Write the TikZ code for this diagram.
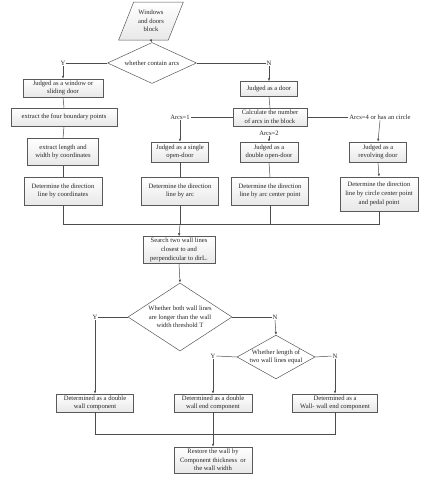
\documentclass[tikz,border=0pt]{standalone}
\usepackage{fontspec}
\setmainfont{Liberation Serif}
\usetikzlibrary{shapes.geometric,arrows.meta}
\tikzset{
  every node/.style={font=\fontsize{6.6}{8.7}\selectfont, align=center, text=black!85},
  boxx/.style={draw=black!65, line width=0.5pt, top color=white, bottom color=black!9, inner sep=1pt},
  dia/.style={diamond, draw=black!65, line width=0.5pt, fill=white, inner sep=-6pt},
  lbl/.style={inner sep=0.8pt, font=\fontsize{6.6}{8}\selectfont},
  ln/.style={draw=black!70, line width=0.5pt},
  arr/.style={ln, -{Latex[length=3pt,width=2.4pt]}},
}
\begin{document}
\begin{tikzpicture}[x=1pt,y=-1pt]
\useasboundingbox[fill=white] (0,0) rectangle (431,480);
% top
\node[trapezium, trapezium left angle=63, trapezium right angle=117, trapezium stretches=true,
      draw=black!65, line width=0.5pt, top color=white, bottom color=black!9,
      minimum width=65pt, minimum height=38pt, inner sep=0pt] (p0) at (151,21) {Windows\\and doors\\block};
\node[dia, minimum width=89pt, minimum height=41pt] (d0) at (152,63) {whether contain arcs};
\node[lbl] (yA) at (63,63) {Y};
\node[lbl] (nA) at (269,63) {N};
\node[boxx, minimum width=80pt, minimum height=18pt] (b1) at (63,88) {Judged as a window or\\sliding door};
\node[boxx, minimum width=57pt, minimum height=15pt] (b2) at (269,89) {Judged as a door};
\node[boxx, minimum width=106pt, minimum height=18pt] (b3) at (64,117) {extract the four boundary points};
\node[boxx, minimum width=74pt, minimum height=18pt] (c1) at (270,117) {Calculate the number\\of arcs in the block};
\node[lbl] (a1) at (180,117) {Arcs=1};
\node[lbl] (a2) at (269,133) {Arcs=2};
\node[lbl] (a4) at (380,117) {Arcs=4 or has an circle};
\node[boxx, minimum width=71pt, minimum height=27pt] (b4) at (63,152) {extract length and\\width by coordinates};
\node[boxx, minimum width=57pt, minimum height=20pt] (s1) at (180,152) {Judged as a single\\open-door};
\node[boxx, minimum width=58pt, minimum height=20pt] (s2) at (269,152) {Judged as a\\double open-door};
\node[boxx, minimum width=57pt, minimum height=20pt] (s3) at (378,152) {Judged as a\\revolving door};
\node[boxx, minimum width=78pt, minimum height=28pt] (e1) at (63,191) {Determine the direction\\line by coordinates};
\node[boxx, minimum width=77pt, minimum height=28pt] (e2) at (180,191) {Determine the direction\\line by arc};
\node[boxx, minimum width=77pt, minimum height=28pt] (e3) at (270,191) {Determine the direction\\line by arc center point};
\node[boxx, minimum width=78pt, minimum height=34pt] (e4) at (379,194) {Determine the direction\\line by circle center point\\and pedal point};
\coordinate (j1) at (180,224);
\node[boxx, minimum width=72pt, minimum height=27pt] (sr) at (179,250) {Search two wall lines\\closest to and\\perpendicular to dirL.};
\node[dia, minimum width=104pt, minimum height=68pt] (d2) at (180,317) {Whether both wall lines\\are longer than the wall\\width threshold T};
\node[lbl] (yB) at (95,317) {Y};
\node[lbl] (nB) at (275,317) {N};
\node[dia, minimum width=78pt, minimum height=40pt] (d3) at (276,357) {Whether length of\\two wall lines equal};
\node[lbl] (yC) at (213,356) {Y};
\node[lbl] (nC) at (335,356) {N};
\node[boxx, minimum width=77pt, minimum height=18pt] (f1) at (95,403) {Determined as a double\\wall component};
\node[boxx, minimum width=78pt, minimum height=18pt] (f2) at (213,403) {Determined as a double\\wall end component};
\node[boxx, minimum width=85pt, minimum height=18pt] (f3) at (335,403) {Determined as a\\Wall- wall end component};
\coordinate (j2) at (213,434);
\node[boxx, minimum width=78pt, minimum height=26pt] (rs) at (213,460) {Restore the wall by\\Component thickness\ \ or\\the wall width};
% connectors
\draw[arr] (p0.south) -- (d0.north);
\draw[ln] (d0.west) -- (yA.east);
\draw[arr] (yA.south) -- (b1.north);
\draw[ln] (d0.east) -- (nA.west);
\draw[arr] (nA.south) -- (b2.north);
\draw[ln] (b1.south) -- (b3.north);
\draw[ln] (b2.south) -- (c1.north);
\draw[ln] (c1.west) -- (a1.east);
\draw[arr] (a1.south) -- (s1.north);
\draw[ln] (c1.east) -- (a4.west);
\draw[arr] (a4.south) -- (s3.north);
\draw[arr] (a2.south) -- (s2.north);
\draw[ln] (b3.south) -- (b4.north);
\draw[ln] (b4.south) -- (e1.north);
\draw[ln] (s1.south) -- (e2.north);
\draw[ln] (s2.south) -- (e3.north);
\draw[arr] (s3.south) -- (e4.north);
\draw[ln] (e1.south) |- (j1);
\draw[ln] (e3.south) |- (j1);
\draw[ln] (e4.south) |- (j1);
\draw[ln] (e2.south) -- (j1);
\draw[arr] (j1) -- (sr.north);
\draw[arr] (sr.south) -- (d2.north);
\draw[ln] (d2.west) -- (yB.east);
\draw[arr] (yB.south) -- (f1.north);
\draw[ln] (d2.east) -- (nB.west);
\draw[arr] (nB.south) -- (d3.north);
\draw[ln] (d3.west) -- (yC.east);
\draw[arr] (yC.south) -- (f2.north);
\draw[ln] (d3.east) -- (nC.west);
\draw[arr] (nC.south) -- (f3.north);
\draw[ln] (f1.south) |- (j2);
\draw[ln] (f3.south) |- (j2);
\draw[arr] (f2.south) -- (rs.north);
\end{tikzpicture}
\end{document}
